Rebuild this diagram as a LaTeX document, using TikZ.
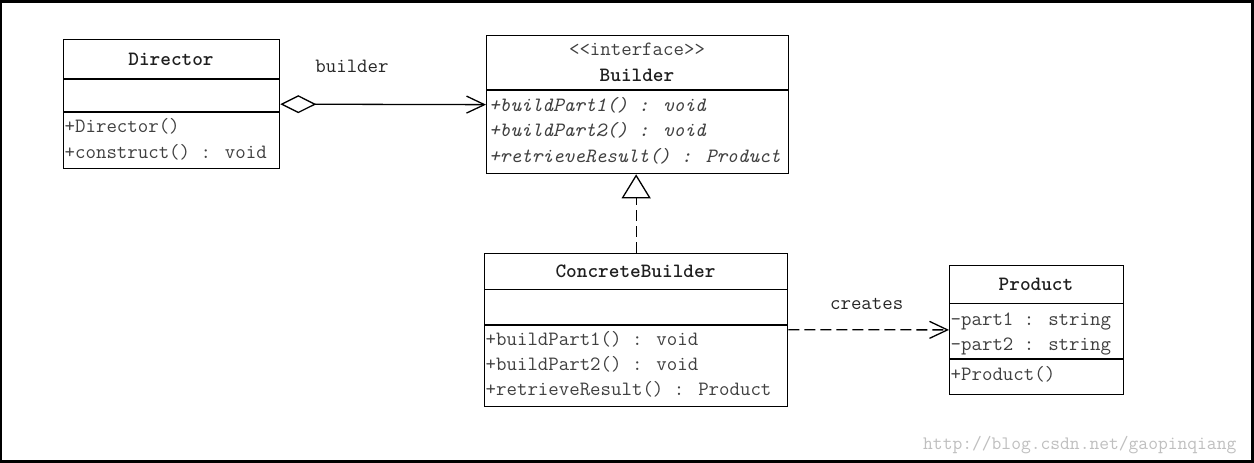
\documentclass[tikz,border=0pt]{standalone}
\usetikzlibrary{arrows.meta}
\newcommand{\umlfont}{\ttfamily\fontsize{20.3}{24}\selectfont}
\tikzset{
  box/.style={draw, line width=1.3pt, inner sep=0pt, anchor=north west},
  sepline/.style={line width=1.3pt},
  clsname/.style={font=\umlfont\bfseries, text=black!88, anchor=base, inner sep=0pt},
  stereo/.style={font=\umlfont, text=black!75, anchor=base, inner sep=0pt},
  op/.style={font=\umlfont, text=black!75, anchor=base west, inner sep=0pt},
  opit/.style={font=\umlfont\itshape, text=black!75, anchor=base west, inner sep=0pt},
  lbl/.style={font=\umlfont, text=black!85, anchor=base, inner sep=0pt},
  conn/.style={line width=1.3pt},
  dashline/.style={dash pattern=on 11pt off 5pt},
}
\begin{document}
\begin{tikzpicture}[x=1pt,y=-1pt]
% frame
\fill[black] (0,0) rectangle (1254,463);
\fill[white] (2,3) rectangle (1251,460);
\useasboundingbox (0,0) rectangle (1254,463);

% Director
\node[box, minimum width=216pt, minimum height=129pt] (dir) at (63,39) {};
\draw[sepline] (63,79) -- (279,79);
\draw[sepline] (63,112) -- (279,112);
\node[clsname] (dirname) at (171,65.7) {Director};
\node[op] (dirop1) at (64.5,132.7) {+Director()};
\node[op] (dirop2) at (64.5,158.3) {+construct() : void};

% Builder
\node[box, minimum width=302pt, minimum height=138pt] (bld) at (486,35) {};
\draw[sepline] (486,90) -- (788,90);
\node[stereo] (bldst) at (637,56) {<<interface>>};
\node[clsname] (bldname) at (637,81.7) {Builder};
\node[opit] (bldop1) at (489,111.7) {+buildPart1() : void};
\node[opit] (bldop2) at (489,136.7) {+buildPart2() : void};
\node[opit] (bldop3) at (489,162.7) {+retrieveResult() : Product};

% ConcreteBuilder
\node[box, minimum width=303pt, minimum height=153pt] (cb) at (484,252.5) {};
\draw[sepline] (484,289.5) -- (787,289.5);
\draw[sepline] (484,325) -- (787,325);
\node[clsname] (cbname) at (635.5,277.3) {ConcreteBuilder};
\node[op] (cbop1) at (485.5,345.7) {+buildPart1() : void};
\node[op] (cbop2) at (485.5,370) {+buildPart2() : void};
\node[op] (cbop3) at (485.5,395) {+retrieveResult() : Product};

% Product
\node[box, minimum width=174pt, minimum height=129.5pt] (prod) at (949,264.5) {};
\draw[sepline] (949,303.5) -- (1123,303.5);
\draw[sepline] (949,359) -- (1123,359);
\node[clsname] (prodname) at (1036,290) {Product};
\node[op] (prodat1) at (950.5,325) {-part1 : string};
\node[op] (prodat2) at (950.5,350) {-part2 : string};
\node[op] (prodop1) at (950.5,380.7) {+Product()};

% connectors
\draw[conn, {Diamond[open,length=36pt,width=18pt]}-{Straight Barb[length=18pt,width=17pt]}] (dir.east) -- (bld.west);
\node[lbl] (lblbuilder) at (352,72.7) {builder};

\draw[conn, dashline, -{Triangle[open,length=24pt,width=29pt]}] (cb.north) -- (cb.north |- bld.south);

\draw[conn, dashline, -{Straight Barb[length=18pt,width=17pt]}] (cb.east) -- (prod.west);
\node[lbl] (lblcreates) at (866.7,309.3) {creates};

% watermark
\node[font=\ttfamily\fontsize{19}{22}\selectfont, text=black!25, anchor=base west, inner sep=0pt] (wm) at (923,449.3) {http://blog.csdn.net/gaopinqiang};
\end{tikzpicture}
\end{document}
